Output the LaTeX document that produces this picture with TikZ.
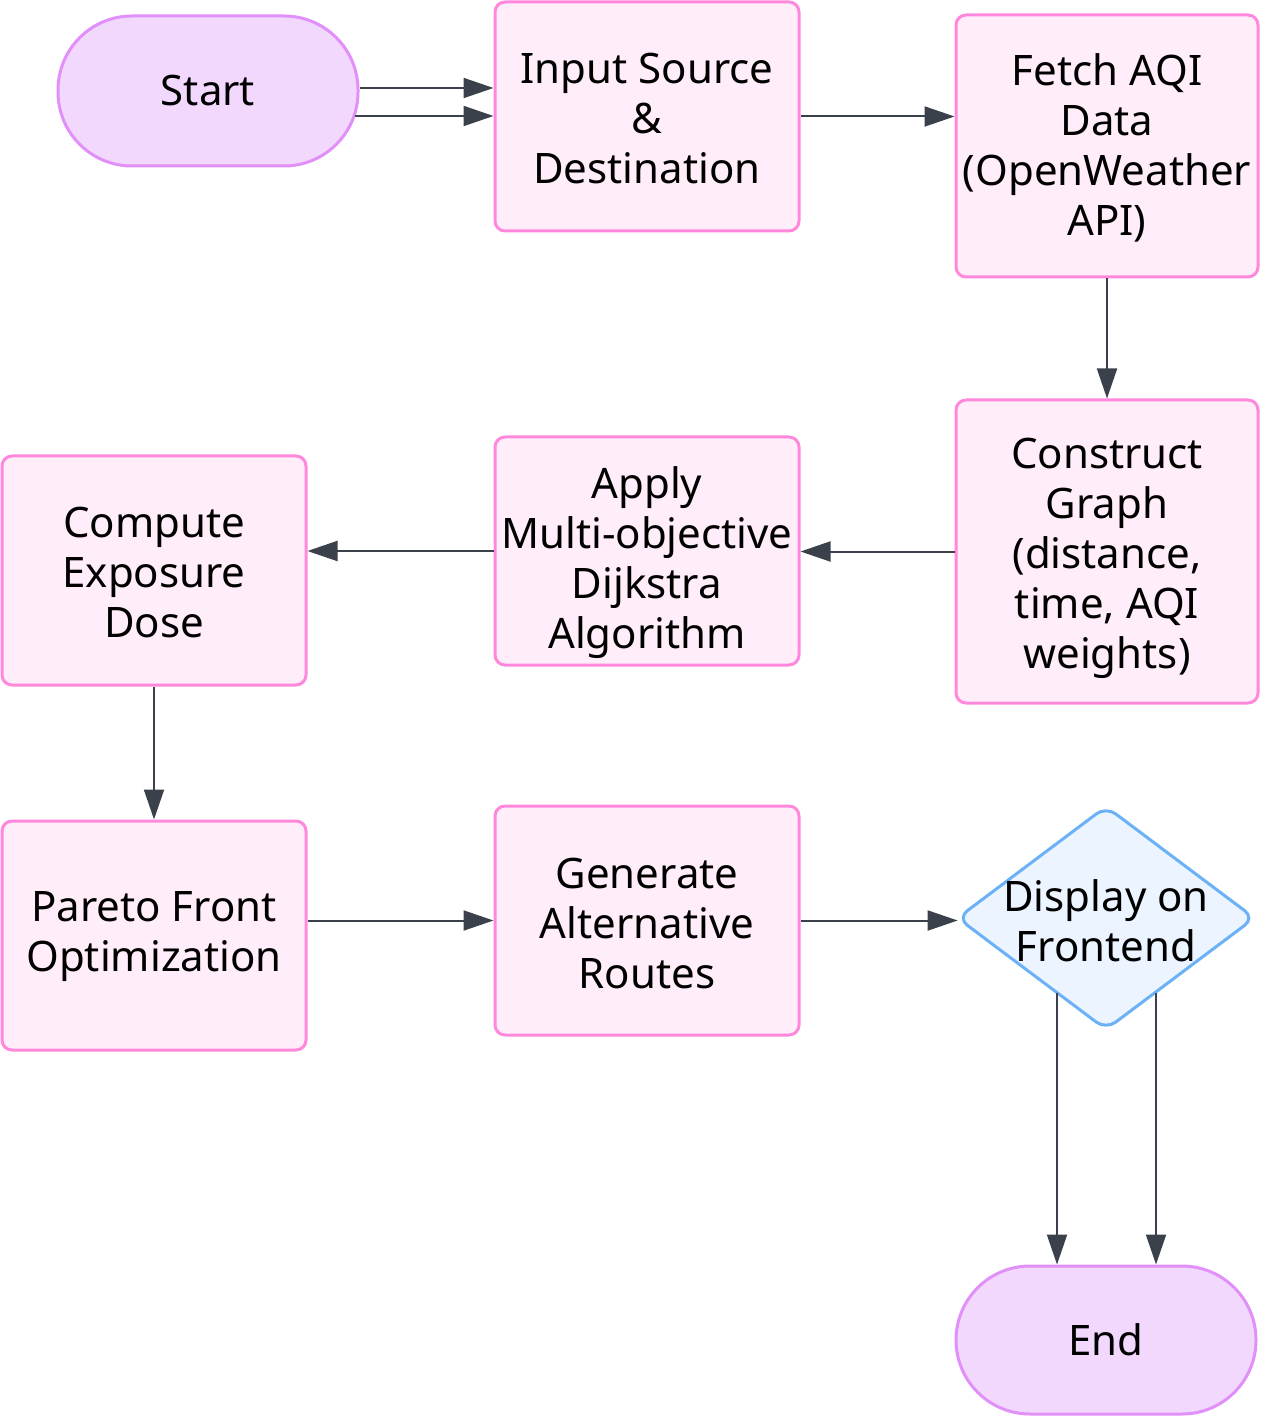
\documentclass[tikz,border=0pt]{standalone}
\usepackage{fontspec}
\setmainfont{Noto Sans}
\usetikzlibrary{arrows.meta,calc}
\definecolor{boxdraw}{HTML}{FF88DC}
\definecolor{boxfill}{HTML}{FFEEF9}
\definecolor{termdraw}{HTML}{E090F8}
\definecolor{termfill}{HTML}{F3D8FE}
\definecolor{diadraw}{HTML}{6CB1F6}
\definecolor{diafill}{HTML}{ECF4FF}
\definecolor{arrc}{HTML}{3B414B}
\newcommand\nodefs{\fontsize{21}{25}\selectfont}
\begin{document}
\begin{tikzpicture}[x=0.5pt,y=-0.5pt,
  every node/.style={font=\nodefs, text=black},
  box/.style={draw=boxdraw, fill=boxfill, line width=1.5pt, rounded corners=5pt,
    minimum width=152pt, minimum height=114.5pt, align=center, inner sep=0pt},
  term/.style={draw=termdraw, fill=termfill, line width=1.5pt, rounded corners=37pt,
    minimum width=150pt, minimum height=75pt, align=center, inner sep=0pt},
  txt/.style={align=center, inner sep=0pt},
  dia/.style={draw=diadraw, fill=diafill, line width=1.5pt, rounded corners=6pt},
  arr/.style={draw=arrc, line width=1pt, -{Triangle[length=15pt,width=10pt]}}]
\useasboundingbox (0,0) rectangle (1260,1416);

\node[term] (start) at (208,91) {Start};
\node[box] (input) at (647,116.5) {};
\node[txt] (inputt) at (647,119) {Input Source\\\&\\Destination};
\node[box, minimum width=151pt, minimum height=131pt] (fetch) at (1107,146) {};
\node[txt] (fetcht) at (1107,148) {Fetch AQI\\Data\\(OpenWeather\\API)};
\node[box, minimum width=151pt, minimum height=151.5pt] (construct) at (1107,551.5) {};
\node[txt] (constructt) at (1107,558) {Construct\\Graph\\(distance,\\time, AQI\\weights)};
\node[box, minimum height=114pt] (apply) at (647,551) {};
\node[txt] (applyt) at (647,563) {Apply\\Multi-objective\\Dijkstra\\Algorithm};
\node[box] (compute) at (154,570.5) {};
\node[txt] (computet) at (154,573) {Compute\\Exposure\\Dose};
\node[box] (pareto) at (154,935.5) {};
\node[txt] (paretot) at (154,937) {Pareto Front\\Optimization};
\node[box] (generate) at (647,920.5) {};
\node[txt] (generatet) at (647,923) {Generate\\Alternative\\Routes};
\node[draw=none, minimum width=148pt, minimum height=111pt, inner sep=0pt] (disp) at (1106,918) {};
\path[dia] (disp.north) -- (disp.east) -- (disp.south) -- (disp.west) -- cycle;
\node[txt] (dispt) at (1106,921) {Display on\\Frontend};
\node[term, minimum height=74pt] (end) at (1106,1340) {End};

\coordinate (d1) at (1057,993);
\coordinate (d2) at (1156,993);

\draw[arr] (start.east |- 0,88) -- (input.west |- 0,88);
\draw[arr] ($(start.east)+(-5,25)$) -- (input.west |- 0,116);
\draw[arr] (input.east) -- (input.east -| fetch.west);
\draw[arr] (fetch.south) -- (construct.north);
\draw[arr] (construct.west) -- (construct.west -| apply.east);
\draw[arr] (apply.west) -- (apply.west -| compute.east);
\draw[arr] (compute.south) -- (pareto.north);
\draw[arr] (pareto.east |- generate.west) -- (generate.west);
\draw[arr] (generate.east) -- (generate.east -| disp.west);
\draw[arr] (d1) -- (end.north -| d1);
\draw[arr] (d2) -- (end.north -| d2);
\end{tikzpicture}
\end{document}
